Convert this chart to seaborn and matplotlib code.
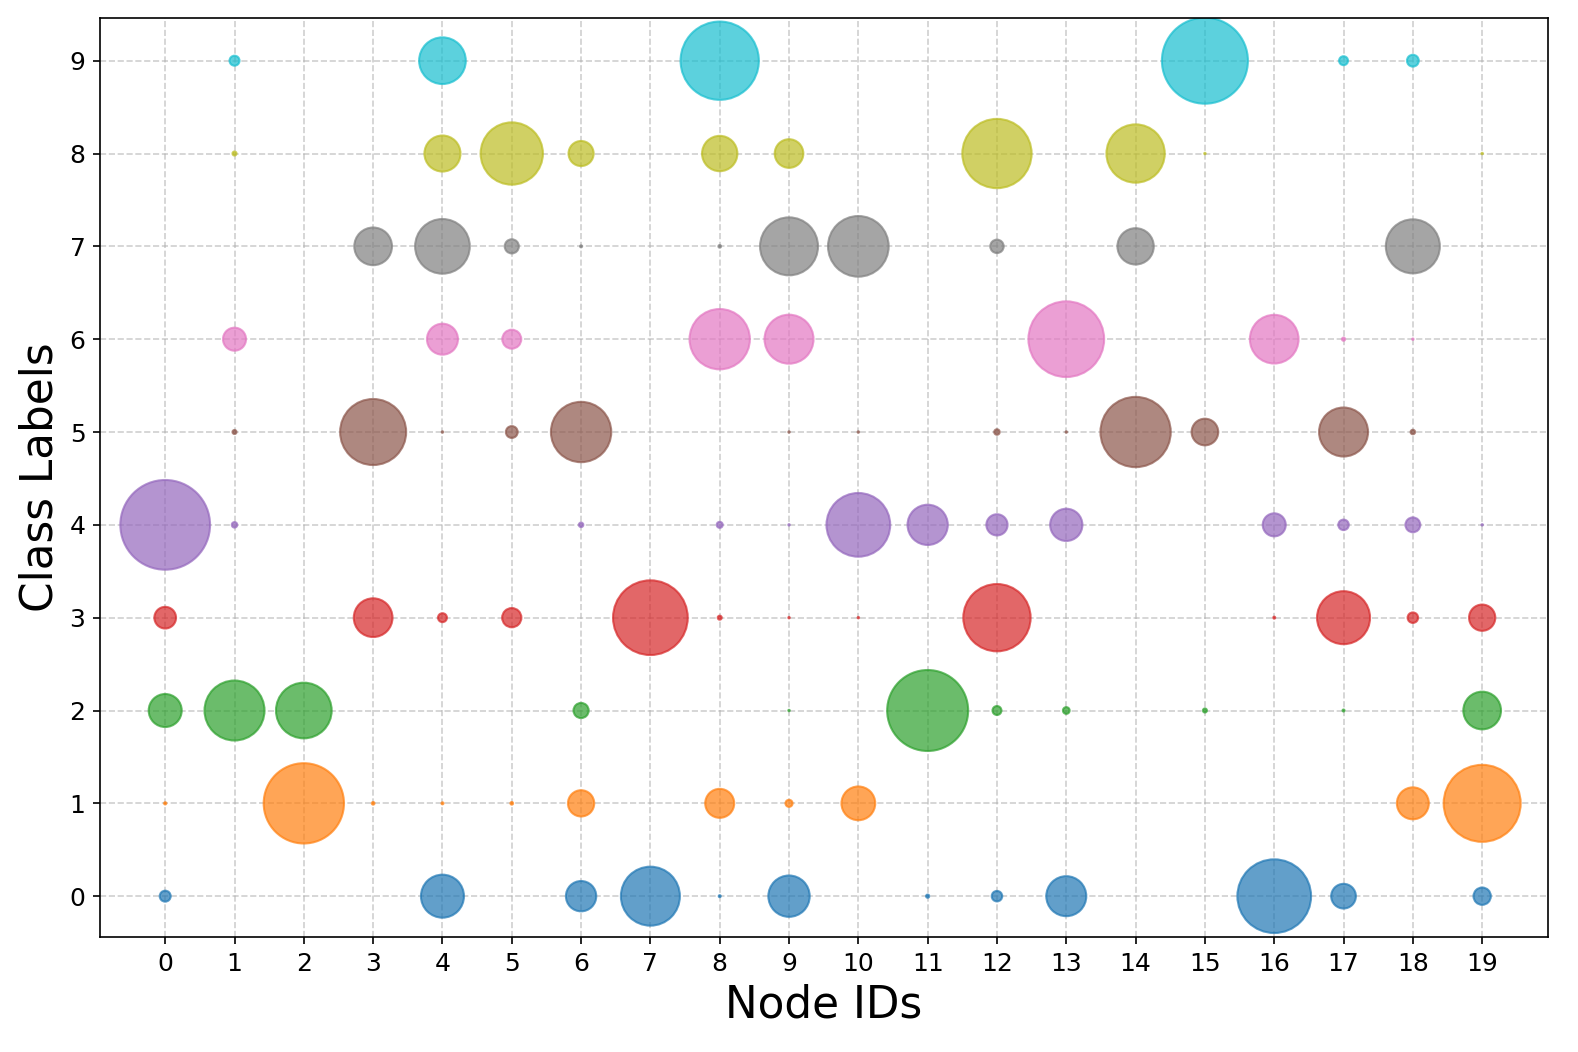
import matplotlib
matplotlib.use("Agg")

import numpy as np
import pandas as pd
import matplotlib.pyplot as plt
import seaborn as sns

# ── Data: predicted class weight per node ─────────────────────────────────────
node_ids = list(range(20))
class_ids = list(range(10))

class_0 = [0.012, 0, 0, 0, 0.185, 0, 0.092, 0.348, 0.0004, 0.171,
           0, 0.001, 0.011, 0.160, 0, 0, 0.543, 0.061, 0, 0.030]
class_1 = [0.0005, 0, 0.645, 0.0007, 0.0004, 0.0007, 0.069, 0, 0.084, 0.005,
           0.114, 0, 0, 0, 0, 0, 0, 0, 0.102, 0.593]
class_2 = [0.109, 0.360, 0.310, 0, 0, 0, 0.023, 0, 0, 0.0002,
           0, 0.656, 0.008, 0.0045, 0, 0.0016, 0, 0.0004, 0, 0.142]
class_3 = [0.047, 0, 0, 0.150, 0.008, 0.037, 0, 0.558, 0.0016, 0.0002,
           0.0002, 0, 0.453, 0, 0, 0, 0.0004, 0.281, 0.011, 0.069]
class_4 = [0.805, 0.003, 0, 0, 0, 0, 0.002, 0, 0.0036, 0.0002,
           0.406, 0.162, 0.045, 0.104, 0, 0, 0.053, 0.011, 0.022, 0.0002]
class_5 = [0, 0.0016, 0, 0.436, 0.0002, 0.014, 0.364, 0, 0, 0.0002,
           0.0002, 0, 0.003, 0.0002, 0.494, 0.071, 0, 0.240, 0.002, 0]
class_6 = [0, 0.053, 0, 0, 0.096, 0.036, 0, 0, 0.364, 0.240,
           0, 0, 0, 0.573, 0, 0, 0.237, 0.001, 0.0002, 0]
class_7 = [0, 0, 0, 0.142, 0.299, 0.020, 0.0004, 0, 0.0007, 0.336,
           0.368, 0, 0.018, 0, 0.132, 0, 0, 0, 0.292, 0]
class_8 = [0, 0.0016, 0, 0, 0.130, 0.388, 0.063, 0, 0.125, 0.082,
           0, 0, 0.480, 0, 0.340, 0.0002, 0, 0, 0, 0.0002]
class_9 = [0, 0.010, 0, 0, 0.218, 0, 0, 0, 0.613, 0,
           0, 0, 0, 0, 0, 0.740, 0, 0.008, 0.014, 0]

weights = np.array([class_0, class_1, class_2, class_3, class_4,
                    class_5, class_6, class_7, class_8, class_9])

# long-form table for seaborn
rows = []
for c in class_ids:
    for n in node_ids:
        if weights[c, n] > 0:
            rows.append({"node": n, "label": c, "weight": weights[c, n]})
df = pd.DataFrame(rows)

# ── Plot ──────────────────────────────────────────────────────────────────────
fig = plt.figure(figsize=(1578 / 150, 1052 / 150), dpi=150)
ax = fig.add_axes([0.0634, 0.1093, 0.9176, 0.8736])

sns.scatterplot(
    data=df, x="node", y="label",
    hue="label", hue_order=class_ids, palette="tab10",
    size="weight", sizes=(0, 2304), size_norm=(0, 1),
    alpha=0.7, edgecolor="face", linewidth=1.0,
    legend=False, ax=ax,
)

ax.set_xticks(node_ids)
ax.set_yticks(class_ids)
ax.set_xlim(-0.94, 19.95)
ax.set_ylim(-0.44, 9.46)
ax.tick_params(labelsize=12)
ax.set_xlabel("Node IDs", fontsize=21)
ax.set_ylabel("Class Labels", fontsize=21)
ax.grid(True, linestyle="--", alpha=0.6)
ax.set_axisbelow(True)

fig.savefig("out.png", dpi=150)
plt.close()
